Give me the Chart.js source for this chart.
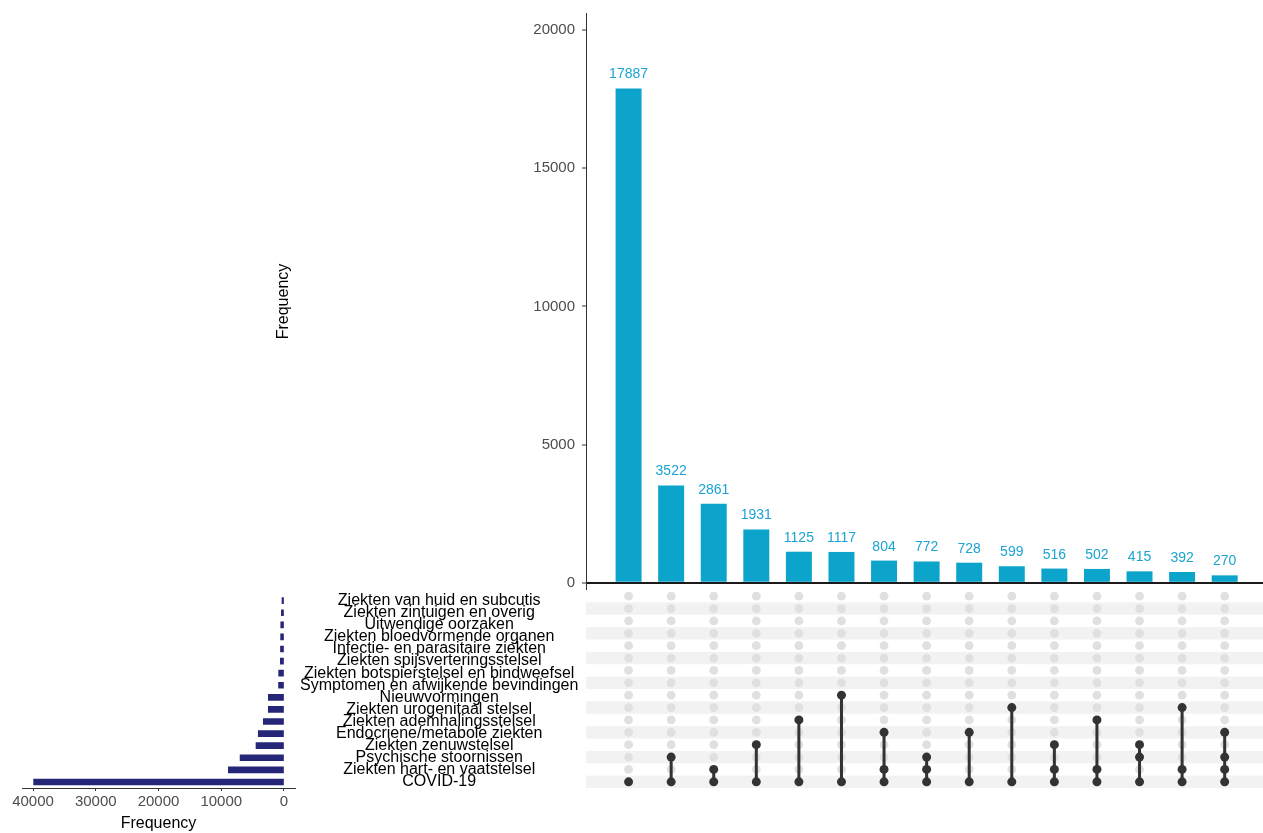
<!DOCTYPE html>
<html>
<head>
<meta charset="utf-8">
<script src="https://cdn.jsdelivr.net/npm/chart.js@4"></script>
<style>
  html, body { margin: 0; padding: 0; background: #fff; }
  body { width: 1263px; height: 833px; position: relative; overflow: hidden; }
  .box { position: absolute; }
</style>
</head>
<body>
<div class="box" style="left:274px;top:0;width:989px;height:590px"><canvas id="intersections"></canvas></div>
<div class="box" style="left:586px;top:590px;width:677px;height:198px"><canvas id="matrix"></canvas></div>
<div class="box" style="left:0;top:580px;width:586px;height:253px"><canvas id="sets"></canvas></div>
<script>
// sets, top row first
const setNames = [
  'Ziekten van huid en subcutis',
  'Ziekten zintuigen en overig',
  'Uitwendige oorzaken',
  'Ziekten bloedvormende organen',
  'Infectie- en parasitaire ziekten',
  'Ziekten spijsverteringsstelsel',
  'Ziekten botspierstelsel en bindweefsel',
  'Symptomen en afwijkende bevindingen',
  'Nieuwvormingen',
  'Ziekten urogenitaal stelsel',
  'Ziekten ademhalingsstelsel',
  'Endocriene/metabole ziekten',
  'Ziekten zenuwstelsel',
  'Psychische stoornissen',
  'Ziekten hart- en vaatstelsel',
  'COVID-19'
];
const setSizes = [320, 420, 520, 540, 560, 580, 850, 870, 2500, 2500, 3300, 4100, 4460, 7000, 8870, 39900];

// intersections, left to right
const intersectionSizes = [17887, 3522, 2861, 1931, 1125, 1117, 804, 772, 728, 599, 516, 502, 415, 392, 270];
const intersectionSets = [
  ['COVID-19'],
  ['Psychische stoornissen', 'COVID-19'],
  ['Ziekten hart- en vaatstelsel', 'COVID-19'],
  ['Ziekten zenuwstelsel', 'COVID-19'],
  ['Ziekten ademhalingsstelsel', 'COVID-19'],
  ['Nieuwvormingen', 'COVID-19'],
  ['Endocriene/metabole ziekten', 'Ziekten hart- en vaatstelsel', 'COVID-19'],
  ['Psychische stoornissen', 'Ziekten hart- en vaatstelsel', 'COVID-19'],
  ['Endocriene/metabole ziekten', 'COVID-19'],
  ['Ziekten urogenitaal stelsel', 'COVID-19'],
  ['Ziekten zenuwstelsel', 'Ziekten hart- en vaatstelsel', 'COVID-19'],
  ['Ziekten ademhalingsstelsel', 'Ziekten hart- en vaatstelsel', 'COVID-19'],
  ['Ziekten zenuwstelsel', 'Psychische stoornissen', 'COVID-19'],
  ['Ziekten urogenitaal stelsel', 'Ziekten hart- en vaatstelsel', 'COVID-19'],
  ['Endocriene/metabole ziekten', 'Psychische stoornissen', 'Ziekten hart- en vaatstelsel', 'COVID-19']
];

const topTicks = [0, 5000, 10000, 15000, 20000];
const sizeTicks = [0, 10000, 20000, 30000, 40000];

Chart.defaults.font.family = '"Liberation Sans", Arial, sans-serif';

// matrix points
const activeDots = [];
const inactiveDots = [];
const connectors = [];
intersectionSets.forEach((sets, i) => {
  const col = i + 1;
  const rows = sets.map(s => setNames.indexOf(s));
  setNames.forEach((name, row) => {
    (rows.includes(row) ? activeDots : inactiveDots).push({x: col, y: row});
  });
  if (rows.length > 1) {
    connectors.push({x: col, y: Math.min(...rows)});
    connectors.push({x: col, y: Math.max(...rows)});
    connectors.push({x: col, y: null});
  }
});

const barValueLabels = {
  id: 'barValueLabels',
  afterDatasetsDraw(chart) {
    const ctx = chart.ctx;
    const meta = chart.getDatasetMeta(0);
    ctx.save();
    ctx.font = '14px "Liberation Sans", Arial, sans-serif';
    ctx.fillStyle = '#1ba3d2';
    ctx.textAlign = 'center';
    ctx.textBaseline = 'alphabetic';
    meta.data.forEach((bar, i) => {
      ctx.fillText(intersectionSizes[i], bar.x, bar.y - 10);
    });
    ctx.restore();
  }
};

const rowStripes = {
  id: 'rowStripes',
  beforeDatasetsDraw(chart) {
    const {ctx, chartArea, scales} = chart;
    ctx.save();
    ctx.fillStyle = '#f2f2f2';
    setNames.forEach((name, row) => {
      if (row % 2 === 1) {
        const y0 = scales.y.getPixelForValue(row - 0.5);
        const y1 = scales.y.getPixelForValue(row + 0.5);
        ctx.fillRect(chartArea.left, y0, chartArea.right - chartArea.left, y1 - y0);
      }
    });
    ctx.restore();
  }
};

const plainNumber = v => String(v);

new Chart(document.getElementById('intersections'), {
  type: 'bar',
  data: {
    datasets: [{
      data: intersectionSizes.map((v, i) => ({x: i + 1, y: v})),
      backgroundColor: '#0ca4cb',
      barPercentage: 0.61,
      categoryPercentage: 1
    }]
  },
  options: {
    animation: false,
    responsive: true,
    maintainAspectRatio: false,
    layout: {padding: {top: 13, right: 0, bottom: 0, left: 0}},
    plugins: {legend: {display: false}, tooltip: {enabled: false}},
    scales: {
      x: {type: 'linear', min: 0, max: 15.9, offset: false, display: false},
      y: {
        min: -260,
        max: 20615,
        z: 1,
        afterBuildTicks: axis => { axis.ticks = topTicks.map(v => ({value: v})); },
        afterFit: axis => { axis.width = 312; axis.paddingTop = 0; axis.paddingBottom = 0; },
        border: {color: '#333', width: 1},
        grid: {
          color: ctx => (ctx.tick && ctx.tick.value === 0) ? '#1a1a1a' : 'rgba(0,0,0,0)',
          lineWidth: 2,
          tickLength: 4,
          tickColor: '#333',
          tickWidth: 1
        },
        ticks: {color: '#4d4d4d', font: {size: 15}, padding: 7, callback: plainNumber},
        title: {display: true, text: 'Frequency', color: '#000', font: {size: 16}, padding: 0}
      }
    }
  },
  plugins: [barValueLabels]
});

new Chart(document.getElementById('matrix'), {
  type: 'scatter',
  data: {
    datasets: [
      {data: activeDots, backgroundColor: '#333', pointRadius: 4.5, pointBorderWidth: 0, order: 0},
      {type: 'line', data: connectors, borderColor: '#333', borderWidth: 3, pointRadius: 0, spanGaps: false, fill: false, order: 1},
      {data: inactiveDots, backgroundColor: '#e0e0e0', pointRadius: 4.4, pointBorderWidth: 0, order: 2}
    ]
  },
  options: {
    animation: false,
    responsive: true,
    maintainAspectRatio: false,
    layout: {padding: 0, autoPadding: false},
    plugins: {legend: {display: false}, tooltip: {enabled: false}},
    scales: {
      x: {type: 'linear', min: 0, max: 15.9, display: false},
      y: {type: 'linear', min: -0.5, max: 15.5, reverse: true, display: false}
    }
  },
  plugins: [rowStripes]
});

new Chart(document.getElementById('sets'), {
  type: 'bar',
  data: {
    labels: setNames,
    datasets: [{data: setSizes, backgroundColor: '#262679', barThickness: 6}]
  },
  options: {
    indexAxis: 'y',
    animation: false,
    responsive: true,
    maintainAspectRatio: false,
    layout: {padding: {top: 10.3, left: 22, right: 0, bottom: 0}},
    plugins: {legend: {display: false}, tooltip: {enabled: false}},
    scales: {
      x: {
        reverse: true,
        min: -1753,
        max: 41753,
        afterBuildTicks: axis => { axis.ticks = sizeTicks.map(v => ({value: v})); },
        afterFit: axis => { axis.height = 45; },
        border: {color: '#333', width: 1},
        grid: {drawOnChartArea: false, tickLength: 3, color: '#333'},
        ticks: {color: '#4d4d4d', font: {size: 15}, padding: 2, maxRotation: 0, callback: plainNumber},
        title: {display: true, text: 'Frequency', color: '#000', font: {size: 16}, padding: 0}
      },
      y: {
        position: 'right',
        afterFit: axis => { axis.width = 291; },
        border: {display: false},
        grid: {display: false, drawTicks: false},
        ticks: {autoSkip: false, crossAlign: 'center', color: '#000', font: {size: 16}, padding: 5}
      }
    }
  }
});
</script>
</body>
</html>
